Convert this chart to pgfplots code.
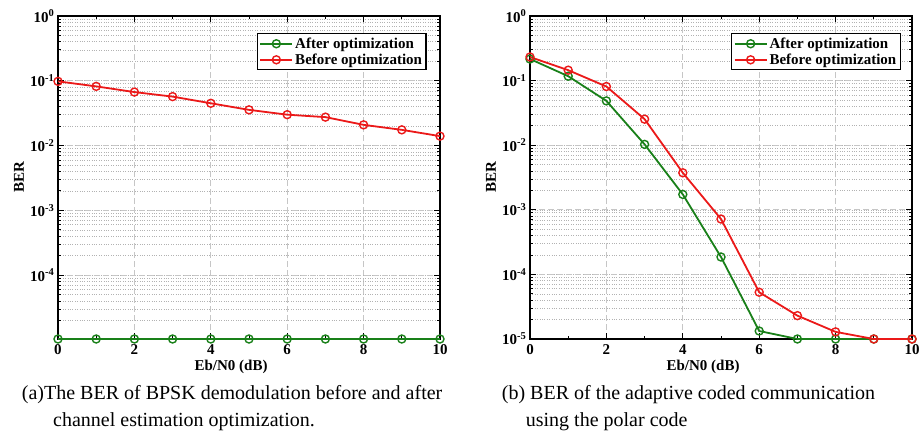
\documentclass[border=0pt]{standalone}
\usepackage{fontspec}
\setmainfont{Liberation Serif}
\usepackage{pgfplots}
\pgfplotsset{compat=1.18}
\definecolor{cgreen}{RGB}{25,128,25}
\definecolor{cred}{RGB}{235,25,25}
\pgfplotsset{
  legend image code/.code={
    \draw[#1, mark=none] (0pt,0pt) -- (32pt,0pt);
    \draw[#1, only marks] plot coordinates {(16pt,0pt)};
  }
}
\pgfplotsset{
  every axis/.append style={
    scale only axis,
    width=382pt, height=323pt,
    xmin=0, xmax=10,
    xtick={0,2,4,6,8,10},
    xticklabels={0,2,4,6,8,10},
    minor x tick num=1,
    ytick={1e-5,1e-4,1e-3,1e-2,1e-1,1},
    yticklabels={10\textsuperscript{-5},10\textsuperscript{-4},10\textsuperscript{-3},10\textsuperscript{-2},10\textsuperscript{-1},10\textsuperscript{0}},
    ymax=1,
    tick label style={font=\bfseries\fontsize{15}{16}\selectfont},
    xticklabel style={yshift=-2pt},
    xlabel style={font=\bfseries\fontsize{15}{16}\selectfont, at={(axis description cs:0.453,-0.086)}, anchor=center},
    ylabel style={font=\bfseries\fontsize{15}{16}\selectfont, at={(axis description cs:-0.102,0.5)}, anchor=center},
    axis line style={line width=1.3pt},
    major tick length=6pt, minor tick length=3pt,
    tick style={line width=0.8pt, black},
    xmajorgrids, ymajorgrids, yminorgrids,
    major grid style={dashed, gray!45, line width=0.8pt, dash pattern=on 6pt off 3pt},
    minor grid style={dotted, gray!60, line width=0.6pt},
    legend style={anchor=north east, draw=black, line width=1.2pt,
      font=\bfseries\fontsize{15}{17}\selectfont, inner sep=2pt},
    legend cell align=left,
  },
  every axis plot/.append style={line width=1.8pt, mark=o, mark size=4pt, mark options={line width=1.4pt}},
}
\begin{document}
\begin{tikzpicture}
\useasboundingbox (-58pt,-100pt) rectangle (863pt,339pt);
% Left panel
\begin{semilogyaxis}[ymin=1.035e-5, clip=false, xlabel={Eb/N0 (dB)}, ylabel={BER}, legend style={at={(0.965,0.947)}}]
\addplot[cgreen] coordinates {(0,1.035e-5)(1,1.035e-5)(2,1.035e-5)(3,1.035e-5)(4,1.035e-5)(5,1.035e-5)(6,1.035e-5)(7,1.035e-5)(8,1.035e-5)(9,1.035e-5)(10,1.035e-5)};
\addlegendentry{After optimization}
\addplot[cred] coordinates {(0,0.098)(1,0.082)(2,0.067)(3,0.057)(4,0.045)(5,0.0356)(6,0.030)(7,0.0275)(8,0.0209)(9,0.0175)(10,0.014)};
\addlegendentry{Before optimization}
\end{semilogyaxis}
% Right panel
\begin{semilogyaxis}[at={(472pt,0pt)}, ymin=1e-5, clip=false, xlabel={Eb/N0 (dB)}, ylabel={BER}, legend style={at={(0.971,0.947)}}]
\addplot[cgreen] coordinates {(0,0.216)(1,0.117)(2,0.0485)(3,0.0103)(4,0.00173)(5,1.86e-4)(6,1.33e-5)(7,1e-5)(8,1e-5)(9,1e-5)(10,1e-5)};
\addlegendentry{After optimization}
\addplot[cred] coordinates {(0,0.232)(1,0.145)(2,0.081)(3,0.0253)(4,0.00374)(5,7.2e-4)(6,5.3e-5)(7,2.3e-5)(8,1.29e-5)(9,1e-5)(10,1e-5)};
\addlegendentry{Before optimization}
\end{semilogyaxis}
% captions
\node[anchor=base west, inner sep=0pt, font=\fontsize{20}{24}\selectfont] at (-36.3pt,-60pt) {(a)The BER of BPSK demodulation before and after};
\node[anchor=base west, inner sep=0pt, font=\fontsize{20}{24}\selectfont] at (-5pt,-88pt) {channel estimation optimization.};
\node[anchor=base west, inner sep=0pt, font=\fontsize{20}{24}\selectfont] at (443.7pt,-60pt) {(b) BER of the adaptive coded communication};
\node[anchor=base west, inner sep=0pt, font=\fontsize{20}{24}\selectfont] at (467.7pt,-88pt) {using the polar code};
\end{tikzpicture}
\end{document}
